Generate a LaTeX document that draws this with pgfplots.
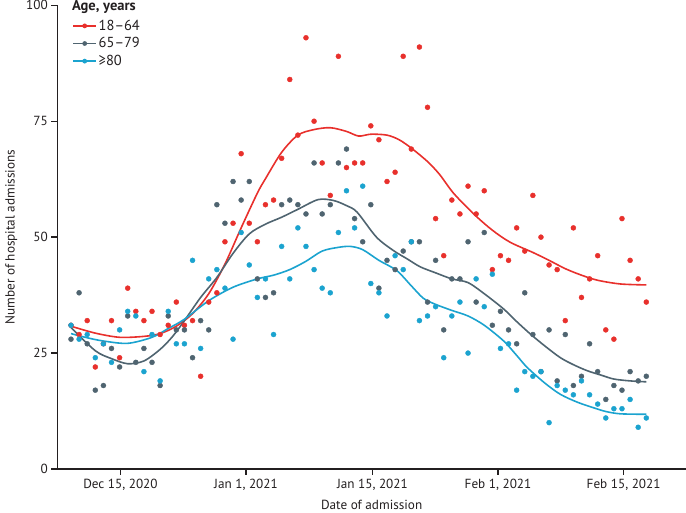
\documentclass[border=0pt]{standalone}
\usepackage{fontspec}
\setmainfont{PT Sans}
\usepackage{pgfplots}
\pgfplotsset{compat=1.18}
\usepackage{pgfplotstable}
\definecolor{cred}{HTML}{E8302C}
\definecolor{cgray}{HTML}{4F6470}
\definecolor{ccyan}{HTML}{1BA3CF}
\definecolor{axc}{HTML}{231F20}

% daily admissions: d = day index (0 = first day plotted)
\pgfplotstableread{
d r g c
0 31 28 31
1 29 38 28
2 32 27 29
3 22 17 24
4 27 18 27
5 32 26 23
6 24 22 30
7 39 33 34
8 34 23 33
9 32 26 21
10 34 23 29
11 29 18 19
12 31 33 34
13 36 30 27
14 31 30 27
15 32 24 45
16 20 32 26
17 36 30 41
18 38 57 43
19 49 53 39
20 53 62 28
21 68 58 51
22 53 62 44
23 49 41 37
24 57 37 41
25 58 38 29
26 67 57 48
27 84 58 41
28 72 57 52
29 93 55 48
30 75 66 43
31 66 55 39
32 59 57 38
33 89 66 51
34 65 69 60
35 66 54 52
36 66 49 61
37 74 57 40
38 71 39 38
39 62 45 33
40 64 43 46
41 89 47 43
42 69 49 49
43 91 49 32
44 78 36 33
45 54 45 35
46 46 30 24
47 58 41 33
48 55 41 36
49 61 49 25
50 55 36 41
51 60 51 35
52 43 31 42
53 46 34 26
54 45 30 27
55 52 27 17
56 47 38 21
57 59 29 20
58 50 21 21
59 44 30 10
60 43 19 18
61 32 29 17
62 52 18 16
63 37 20 19
64 41 27 16
65 46 21 14
66 30 15 11
67 28 18 13
68 54 17 13
69 45 21 15
70 41 19 9
71 36 20 11
}\dots

\pgfplotstableread{
d y
0 30.8
3 29.3
6 28.4
9 28.6
11 29.2
13 30.8
15 33.5
17 37.8
19 44.2
21 52
23 59.5
24 62.6
26 68.3
28 72
30 73.2
32 73.6
34 72.8
35.5 71.8
37 72.2
39 72
40.5 71
42 69.2
44 66.3
45.5 63.5
47.2 59.5
49.7 55
52 51.5
54.2 48.9
57 46.7
59 45
61 43.2
63 41.8
65 40.7
67.8 39.9
71 39.7
}\fitred

\pgfplotstableread{
d y
0 30.5
3 25.5
5 23.8
7 22.7
9 23.3
11 25.8
12.5 28.5
14 32
16 37
18 41.3
20 46.5
22 50.7
24 52.8
26 54.3
28 56
30.5 58.1
32.4 57.9
34 56.8
35.3 55.4
37.7 50
39.8 47.1
41.5 45.3
43.1 43.6
45 42.3
47 41
49 40.2
51 37.8
53.4 34.5
55 31.8
56.7 29.1
58.5 26.5
60.4 24
62 22.5
63.7 21.2
65.5 20.2
67 19.4
69 19
71 18.8
}\fitgray

\pgfplotstableread{
d y
0 29.2
2 28.3
4 27.6
7 27.1
10 28.4
12 30.3
14 32.3
17 36.3
20 39.2
23 41
25 41.8
27 43
29 44.8
31 47
33 47.8
34.5 48
36 47.3
38 45
40.2 42.8
42 39.5
43.5 36.8
45 35.5
47 34.2
49 33
51 31
53.4 27.6
55 24.5
56.3 21.9
58.5 18.5
60.4 16.1
62.5 14.4
64.5 13.2
66 12.4
67.8 11.9
71 11.8
}\fitcyan

\begin{document}
\begin{tikzpicture}
\begin{axis}[
  scale only axis,
  width=628.7bp, height=463.7bp,
  xmin=-1.69, xmax=75.9, ymin=0, ymax=100,
  axis x line*=bottom, axis y line*=left,
  axis line style={-, line width=1.3bp, draw=axc},
  xtick={6.1,21.6,37.2,52.7,68.2},
  xticklabels={{Dec 15, 2020},{Jan 1, 2021},{Jan 15, 2021},{Feb 1, 2021},{Feb 15, 2021}},
  ytick={0,25,50,75,100},
  tick align=outside,
  major tick length=6bp,
  tick style={line width=1.3bp, draw=axc},
  /pgf/number format/assume math mode=true,
  tick label style={font=\fontsize{13.2bp}{15bp}\selectfont, text=axc},
  xticklabel style={yshift=-0.5bp},
  every axis x label/.style={at={(axis description cs:0.5,0)}, yshift=-36bp, anchor=center, font=\fontsize{13.2bp}{15bp}\selectfont, text=axc},
  every axis y label/.style={at={(axis description cs:0,0.5)}, xshift=-46bp, rotate=90, anchor=center, font=\fontsize{13.2bp}{15bp}\selectfont, text=axc},
  xlabel={Date of admission},
  ylabel={Number of hospital admissions},
  clip=false,
  legend style={at={(rel axis cs:0.0234,0.972)}, anchor=north west, draw=none, fill=none,
    font=\fontsize{14.5bp}{16bp}\selectfont, text=axc, row sep=2.8bp, inner sep=0pt,
    nodes={inner sep=1.5bp}},
  legend cell align=left,
  legend image code/.code={
    \draw[#1, line width=1.6bp] (0bp,0bp) -- (23.4bp,0bp);
    \fill[#1, draw=none] (11.7bp,0bp) circle (2.4bp);
  },
]
\addplot[only marks, mark=*, mark size=2.5bp, color=cred, mark options={draw=none}, forget plot] table[x=d, y=r] {\dots};
\addplot[only marks, mark=*, mark size=2.5bp, color=cgray, mark options={draw=none}, forget plot] table[x=d, y=g] {\dots};
\addplot[only marks, mark=*, mark size=2.5bp, color=ccyan, mark options={draw=none}, forget plot] table[x=d, y=c] {\dots};
\addplot[color=cred, line width=1.6bp, smooth, no markers] table[x=d, y=y] {\fitred};
\addlegendentry{18–64}
\addplot[color=cgray, line width=1.6bp, smooth, no markers] table[x=d, y=y] {\fitgray};
\addlegendentry{65–79}
\addplot[color=ccyan, line width=1.6bp, smooth, no markers] table[x=d, y=y] {\fitcyan};
\addlegendentry{≥80}
\node[anchor=base west, inner sep=0pt, font=\fontsize{14.5bp}{16bp}\selectfont\bfseries, text=axc] at (rel axis cs:0.0234,0.9893) {Age, years};
\coordinate (ll) at (rel axis cs:0,0);
\coordinate (ur) at (rel axis cs:1,1);
\end{axis}
\pgfresetboundingbox
\path (ll) ++(-57.3bp,-44bp) rectangle (ur);
\path (ur) ++(0,5.3bp);
\end{tikzpicture}
\end{document}
